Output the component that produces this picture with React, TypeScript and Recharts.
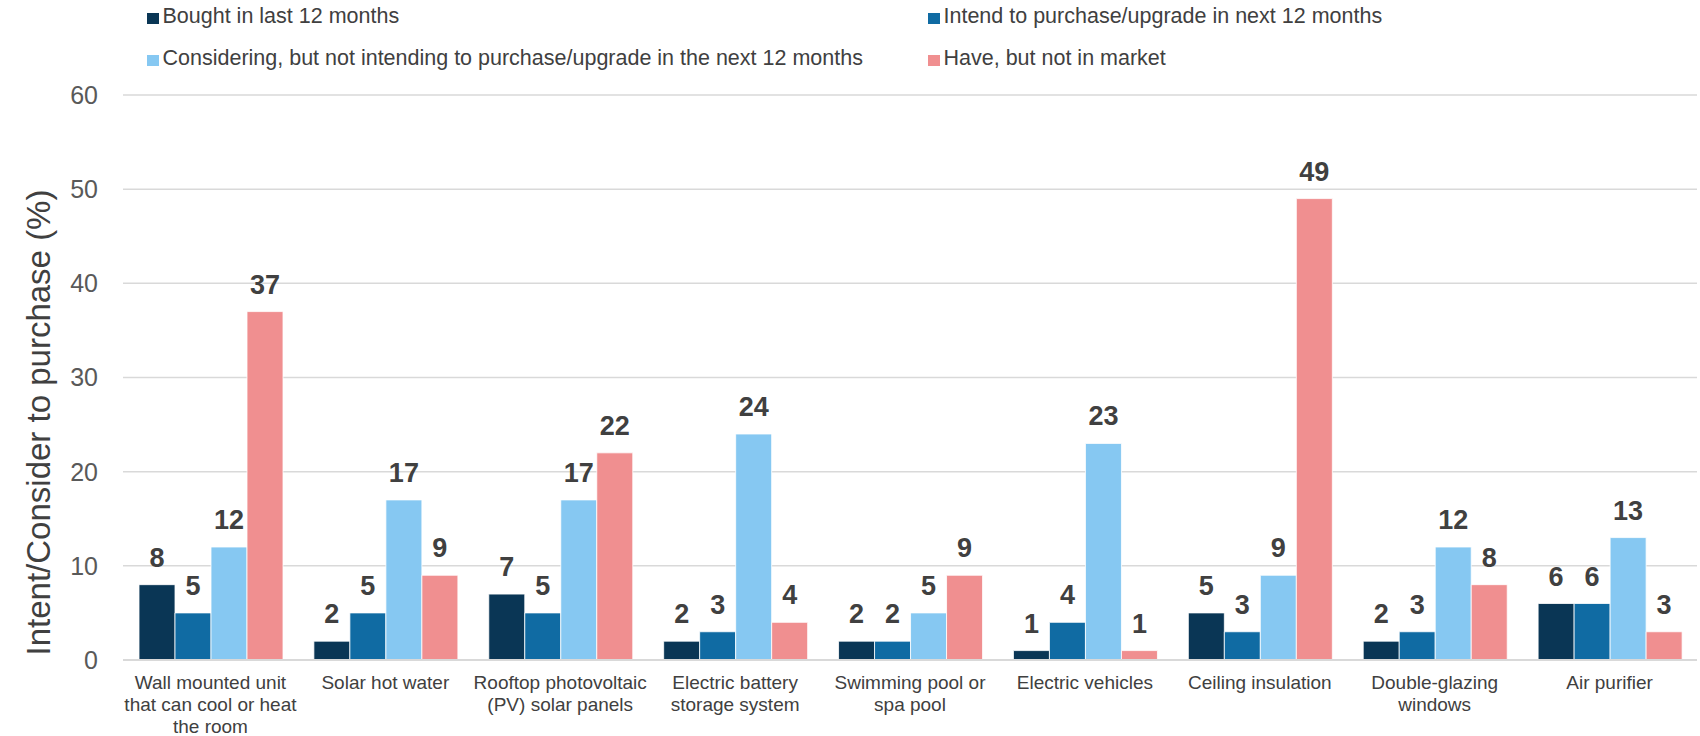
import React from 'react';
import { BarChart, Bar, XAxis, YAxis, CartesianGrid, LabelList, Legend, Label } from 'recharts';

const categories = [
  'Wall mounted unit\nthat can cool or heat\nthe room',
  'Solar hot water',
  'Rooftop photovoltaic\n(PV) solar panels',
  'Electric battery\nstorage system',
  'Swimming pool or\nspa pool',
  'Electric vehicles',
  'Ceiling insulation',
  'Double-glazing\nwindows',
  'Air purifier',
];
const bought = [8, 2, 7, 2, 2, 1, 5, 2, 6];
const intend = [5, 5, 5, 3, 2, 4, 3, 3, 6];
const considering = [12, 17, 17, 24, 5, 23, 9, 12, 13];
const haveNotInMarket = [37, 9, 22, 4, 9, 1, 49, 8, 3];
const yTicks = [0, 10, 20, 30, 40, 50, 60];

const seriesKeys = ['bought', 'intend', 'considering', 'have'];
const seriesNames = [
  'Bought in last 12 months',
  'Intend to purchase/upgrade in next 12 months',
  'Considering, but not intending to purchase/upgrade in the next 12 months',
  'Have, but not in market',
];
const seriesColors = ['#0a3655', '#106ba3', '#86c8f2', '#f08f90'];
const yTitle = 'Intent/Consider to purchase (%)';

const data = categories.map((c, i) => ({
  category: c,
  bought: bought[i],
  intend: intend[i],
  considering: considering[i],
  have: haveNotInMarket[i],
}));

const FONT = '"Liberation Sans", Arial, sans-serif';

const XTick = (props: any) => {
  const { x, y, payload } = props;
  const lines = String(payload.value).split('\n');
  return (
    <g transform={`translate(${x},${y})`}>
      {lines.map((l, i) => (
        <text key={i} x={0} y={29 + i * 21.8} textAnchor="middle" fill="#404040" fontSize={19} fontFamily={FONT}>
          {l}
        </text>
      ))}
    </g>
  );
};

const LegendContent = () => (
  <div style={{ position: 'relative', width: 1700, height: 80, fontFamily: FONT }}>
    {seriesNames.map((n, i) => {
      const col = i % 2;
      const row = Math.floor(i / 2);
      const left = col ? 928 : 147;
      const baseTop = row ? 43.3 : 1.2;
      return (
        <React.Fragment key={n}>
          <span
            style={{
              position: 'absolute',
              left,
              top: baseTop + 11.7,
              width: 12,
              height: 11,
              background: seriesColors[i],
            }}
          />
          <span
            style={{
              position: 'absolute',
              left: left + 15.5,
              top: baseTop + 3.6,
              fontSize: 21.5,
              lineHeight: '22px',
              color: '#404040',
              whiteSpace: 'nowrap',
            }}
          >
            {n}
          </span>
        </React.Fragment>
      );
    })}
  </div>
);

const YTitle = (props: any) => {
  const { viewBox } = props;
  const cx = viewBox.x + 38;
  const cy = viewBox.y + viewBox.height / 2 + 45;
  return (
    <text
      x={cx}
      y={cy}
      transform={`rotate(-90, ${cx}, ${cy})`}
      textAnchor="middle"
      dominantBaseline="central"
      fontSize={33}
      fill="#404040"
      fontFamily={FONT}
    >
      {yTitle}
    </text>
  );
};

export default function App() {
  return (
    <div style={{ position: 'absolute', left: 0, top: 0, width: 1700, height: 736, background: '#fff' }}>
      <BarChart
        width={1700}
        height={736}
        data={data}
        margin={{ top: 95, right: 3, bottom: 0, left: 0 }}
        barCategoryGap={16}
        barGap={0}
      >
        <CartesianGrid vertical={false} stroke="#d9d9d9" strokeWidth={1.5} />
        <XAxis
          dataKey="category"
          interval={0}
          height={76}
          tick={<XTick />}
          tickLine={false}
          axisLine={{ stroke: '#d9d9d9', strokeWidth: 2 }}
          tickSize={0}
          tickMargin={0}
        />
        <YAxis
          width={123}
          domain={[0, 60]}
          ticks={yTicks}
          interval={0}
          tickLine={false}
          axisLine={false}
          tickSize={0}
          tickMargin={25}
          tick={{ fill: '#595959', fontSize: 25, fontFamily: FONT }}
        >
          <Label content={<YTitle />} />
        </YAxis>
        <Legend
          layout="horizontal"
          verticalAlign="middle"
          align="center"
          wrapperStyle={{ top: 0, left: 0, width: 1700, height: 80 }}
          content={<LegendContent />}
        />
        {seriesKeys.map((k, i) => (
          <Bar
            key={k}
            dataKey={k}
            name={seriesNames[i]}
            fill={seriesColors[i]}
            stroke="#ffffff"
            strokeWidth={0.8}
            isAnimationActive={false}
          >
            <LabelList
              dataKey={k}
              position="top"
              offset={18}
              fill="#404040"
              fontSize={27}
              fontWeight="bold"
              fontFamily={FONT}
            />
          </Bar>
        ))}
      </BarChart>
    </div>
  );
}
